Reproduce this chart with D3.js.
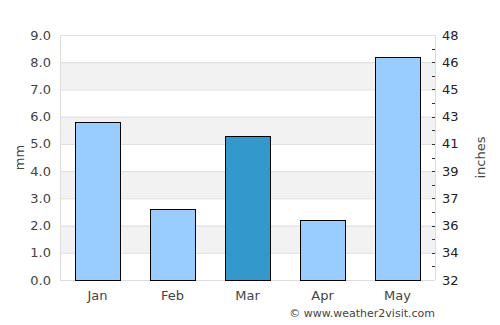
<!DOCTYPE html>
<html>
<head>
<meta charset="utf-8">
<script src="https://cdn.jsdelivr.net/npm/d3@7"></script>
<style>
  body { margin: 0; background: #fff; }
  text { font-family: "DejaVu Sans", sans-serif; }
</style>
</head>
<body>
<script>
var months = ["Jan", "Feb", "Mar", "Apr", "May"];
var rainMm = [5.8, 2.6, 5.3, 2.2, 8.2];
var barColors = ["#99ccff", "#99ccff", "#3399cc", "#99ccff", "#99ccff"];
var mmTicks = [0, 1, 2, 3, 4, 5, 6, 7, 8, 9];
var inchLabels = ["32", "34", "36", "37", "39", "41", "43", "45", "46", "48"];

function init(){
    var w = 500, h = 325;
    var left = 60, right = 435, top = 35, bottom = 280;

    var svg = d3.select("body").append("svg")
        .attr("width", w).attr("height", h);

    var x = d3.scaleBand()
        .domain(months)
        .range([left, right])
        .paddingInner(0.4)
        .paddingOuter(0.2);

    var y = d3.scaleLinear().domain([0, 9]).range([bottom, top]);

    // alternating bands
    svg.selectAll("rect.band")
        .data([1, 3, 5, 7])
        .enter().append("rect")
        .attr("x", left).attr("width", right - left)
        .attr("y", function(d){ return y(d + 1); })
        .attr("height", function(d){ return y(d) - y(d + 1); })
        .attr("fill", "#f2f2f2");

    // grid lines
    svg.selectAll("line.grid")
        .data(mmTicks)
        .enter().append("line")
        .attr("x1", left).attr("x2", right)
        .attr("y1", function(d){ return y(d) + 0.5; })
        .attr("y2", function(d){ return y(d) + 0.5; })
        .attr("stroke", "#dddddd");

    // frame sides
    svg.append("line").attr("x1", left + 0.5).attr("x2", left + 0.5)
        .attr("y1", top).attr("y2", bottom).attr("stroke", "#dddddd");
    svg.append("line").attr("x1", right + 0.5).attr("x2", right + 0.5)
        .attr("y1", top).attr("y2", bottom).attr("stroke", "#dddddd");

    // bars
    svg.selectAll("rect.bar")
        .data(rainMm)
        .enter().append("rect")
        .attr("class", "bar")
        .attr("x", function(d, i){ return Math.round(x(months[i])) + 0.5; })
        .attr("y", function(d){ return Math.round(y(d)) + 0.5; })
        .attr("width", x.bandwidth())
        .attr("height", function(d){ return Math.round(y(0)) - Math.round(y(d)); })
        .attr("fill", function(d, i){ return barColors[i]; })
        .attr("stroke", "#000")
        .attr("stroke-width", 1);

    // left axis labels
    svg.selectAll("text.ly")
        .data(mmTicks)
        .enter().append("text")
        .attr("x", 51)
        .attr("y", function(d){ return y(d) + 4.5; })
        .attr("text-anchor", "end")
        .attr("font-size", 13)
        .attr("fill", "#444")
        .text(function(d){ return d.toFixed(1); });

    // right axis: labels and ticks
    var yr = d3.scaleLinear().domain([0, inchLabels.length - 1]).range([bottom, top]);
    svg.selectAll("text.ry")
        .data(inchLabels)
        .enter().append("text")
        .attr("x", 442)
        .attr("y", function(d, i){ return yr(i) + 4.5; })
        .attr("font-size", 13)
        .attr("fill", "#222")
        .text(function(d){ return d; });

    svg.selectAll("line.rtick")
        .data(d3.range(1, 2 * (inchLabels.length - 1)))
        .enter().append("line")
        .attr("x1", 432).attr("x2", 435)
        .attr("y1", function(d){ return Math.round(yr(d / 2)) + 0.5; })
        .attr("y2", function(d){ return Math.round(yr(d / 2)) + 0.5; })
        .attr("stroke", "#333");

    // x labels
    svg.selectAll("text.xl")
        .data(months)
        .enter().append("text")
        .attr("x", function(d){ return x(d) + x.bandwidth() / 2; })
        .attr("y", 300)
        .attr("text-anchor", "middle")
        .attr("font-size", 13)
        .attr("fill", "#444")
        .text(function(d){ return d; });

    // axis titles
    svg.append("text")
        .attr("transform", "translate(24," + ((top + bottom) / 2) + ") rotate(-90)")
        .attr("text-anchor", "middle")
        .attr("font-size", 13)
        .attr("fill", "#444")
        .text("mm");
    svg.append("text")
        .attr("transform", "translate(485," + ((top + bottom) / 2) + ") rotate(-90)")
        .attr("text-anchor", "middle")
        .attr("font-size", 13)
        .attr("fill", "#444")
        .text("inches");

    svg.append("text")
        .attr("x", 435).attr("y", 317)
        .attr("text-anchor", "end")
        .attr("font-size", 11)
        .attr("fill", "#444")
        .text("© www.weather2visit.com");
}
window.onload = init;
</script>
</body>
</html>
